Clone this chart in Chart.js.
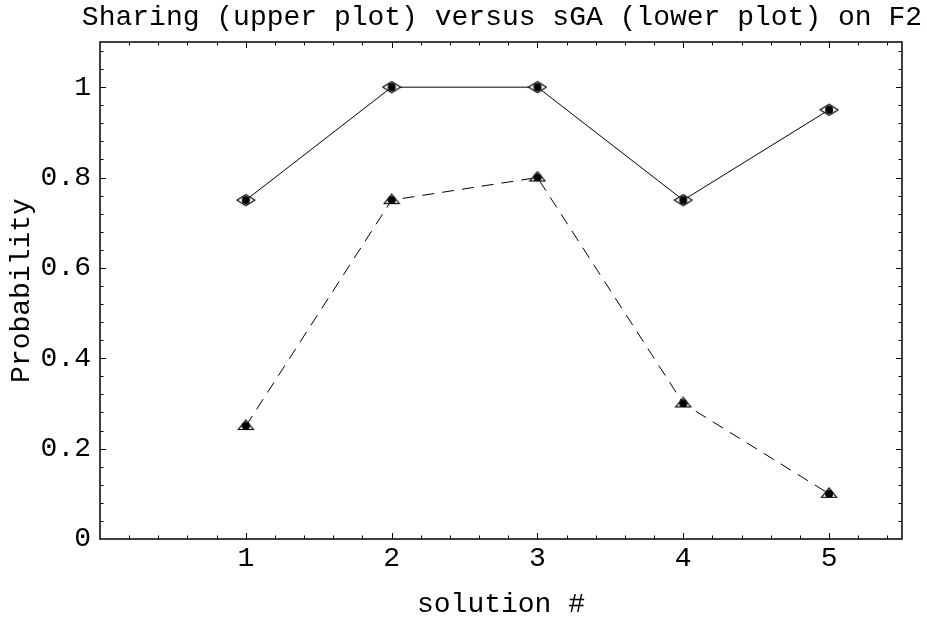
<!DOCTYPE html>
<html>
<head>
<meta charset="utf-8">
<script src="https://cdn.jsdelivr.net/npm/chart.js@4.4.0/dist/chart.umd.min.js"></script>
<style>
  body { margin: 0; background: white; }
  #wrap { width: 927px; height: 619px; }
</style>
</head>
<body>
<div id="wrap"><canvas id="chartLine"></canvas></div>
<script>
// data
const solutions = [1, 2, 3, 4, 5]
const sharing = [0.75, 1, 1, 0.75, 0.95]   // upper plot
const sga = [0.25, 0.75, 0.8, 0.3, 0.1]    // lower plot
const xTicks = [1, 2, 3, 4, 5]
const yTicks = [0, 0.2, 0.4, 0.6, 0.8, 1]

const FONT = "'Liberation Mono', 'Courier New', monospace"
Chart.defaults.font.family = FONT
Chart.defaults.color = '#000'

// marker images: diamond / triangle with a black dot inside
const makeDiamond = () => {
    let c = document.createElement('canvas')
    c.width = 20; c.height = 14
    let g = c.getContext('2d')
    g.beginPath()
    g.moveTo(1, 7); g.lineTo(10, 1.5); g.lineTo(19, 7); g.lineTo(10, 12.5); g.closePath()
    g.fillStyle = '#fff'; g.fill()
    g.strokeStyle = '#000'; g.lineWidth = 1.2; g.stroke()
    g.beginPath(); g.arc(10, 7, 4, 0, Math.PI * 2); g.fillStyle = '#000'; g.fill()
    return c
}
const makeTriangle = () => {
    let c = document.createElement('canvas')
    c.width = 18; c.height = 14
    let g = c.getContext('2d')
    g.beginPath()
    g.moveTo(9, 1); g.lineTo(16.5, 10.5); g.lineTo(1.5, 10.5); g.closePath()
    g.fillStyle = '#fff'; g.fill()
    g.strokeStyle = '#000'; g.lineWidth = 1.2; g.stroke()
    g.beginPath(); g.arc(9, 7, 4, 0, Math.PI * 2); g.fillStyle = '#000'; g.fill()
    return c
}

// frame with inward ticks on all four sides (Mathematica style)
const framePlugin = {
    id: 'frame',
    afterDatasetsDraw(chart) {
        const { ctx, chartArea: a, scales } = chart
        const xs = scales.x, ys = scales.y
        ctx.save()
        ctx.strokeStyle = '#000'
        ctx.lineWidth = 1
        const tick = (x1, y1, x2, y2) => {
            ctx.beginPath(); ctx.moveTo(x1, y1); ctx.lineTo(x2, y2); ctx.stroke()
        }
        for (let i = 1; i <= 27; i++) {
            let v = i * 0.2
            let px = Math.round(xs.getPixelForValue(v)) + 0.5
            let len = (i % 5 === 0) ? 6 : 3.5
            tick(px, a.bottom, px, a.bottom - len)
            tick(px, a.top, px, a.top + len)
        }
        for (let i = 1; i <= 27; i++) {
            let v = i * 0.04
            let py = Math.round(ys.getPixelForValue(v)) + 0.5
            let len = (i % 5 === 0) ? 6 : 3.5
            tick(a.left, py, a.left + len, py)
            tick(a.right, py, a.right - len, py)
        }
        ctx.lineWidth = 1.5
        ctx.strokeRect(a.left, a.top, a.right - a.left, a.bottom - a.top)
        ctx.restore()
    }
}

const toPoints = (vals) => solutions.map((s, i) => ({ x: s, y: vals[i] }))

const ctx = document.getElementById('chartLine').getContext('2d')

const config = {
    type: 'line',
    data: {
        datasets: [
            {
                label: 'Sharing',
                data: toPoints(sharing),
                borderColor: '#000',
                borderWidth: 1,
                pointStyle: makeDiamond(),
                fill: false
            },
            {
                label: 'sGA',
                data: toPoints(sga),
                borderColor: '#000',
                borderWidth: 1,
                borderDash: [12, 8],
                pointStyle: makeTriangle(),
                fill: false
            }
        ]
    },
    options: {
        responsive: true,
        maintainAspectRatio: false,
        animation: false,
        layout: { padding: { left: 0, right: 5, top: 0, bottom: 0 } },
        plugins: {
            legend: { display: false },
            tooltip: { enabled: false },
            title: {
                display: true,
                text: 'Sharing (upper plot) versus sGA (lower plot) on F2',
                align: 'end',
                color: '#000',
                font: { family: FONT, size: 28, weight: 'normal', lineHeight: 1.2 },
                padding: { top: 1.2, bottom: 7.2 }
            }
        },
        scales: {
            x: {
                type: 'linear',
                min: 0,
                max: 5.5,
                afterBuildTicks: (s) => { s.ticks = xTicks.map(v => ({ value: v })) },
                afterFit: (s) => { s.height = 80 },
                grid: { display: false, drawTicks: false },
                border: { display: false },
                ticks: {
                    padding: 3,
                    font: { size: 28 },
                    maxRotation: 0,
                    callback: (v) => String(v)
                },
                title: {
                    display: true,
                    text: 'solution #',
                    font: { size: 28, lineHeight: 1 },
                    padding: { top: 0, bottom: 0 }
                }
            },
            y: {
                type: 'linear',
                min: 0,
                max: 1.1,
                afterBuildTicks: (s) => { s.ticks = yTicks.map(v => ({ value: v })) },
                afterFit: (s) => { s.width = 100 },
                grid: { display: false, drawTicks: false },
                border: { display: false },
                ticks: {
                    padding: 9,
                    font: { size: 28 },
                    callback: (v) => String(Number(v.toFixed(1)))
                },
                title: {
                    display: true,
                    text: 'Probability',
                    font: { size: 28, lineHeight: 1 },
                    padding: { top: 8, bottom: 0 }
                }
            },
            y2: {
                type: 'linear',
                position: 'right',
                min: 0,
                max: 1.1,
                afterFit: (s) => { s.width = 20 },
                grid: { display: false, drawTicks: false },
                border: { display: false },
                ticks: { display: false }
            }
        }
    },
    plugins: [framePlugin]
}

let chart = new Chart(ctx, config)
</script>
</body>
</html>
